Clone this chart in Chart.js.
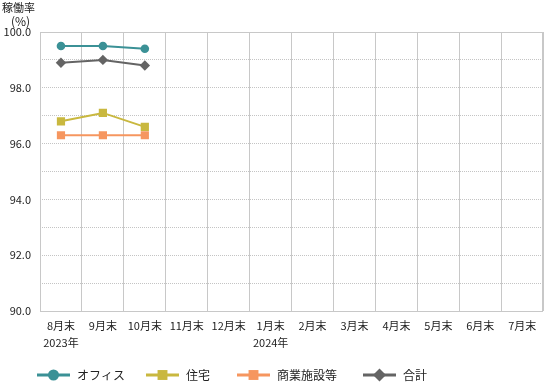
<!DOCTYPE html>
<html>
<head>
<meta charset="utf-8">
<script src="https://cdn.jsdelivr.net/npm/chart.js@4/dist/chart.umd.min.js"></script>
<style>
html,body{margin:0;padding:0;background:#fff;}
#wrap{position:relative;width:549px;height:383px;}
</style>
</head>
<body>
<div id="wrap"><canvas id="c" width="549" height="383"></canvas></div>
<script>
const categories = [['8月末','2023年'],'9月末','10月末','11月末','12月末',['1月末','2024年'],'2月末','3月末','4月末','5月末','6月末','7月末'];
const seriesNames = ['オフィス','住宅','商業施設等','合計'];
const office     = [99.5, 99.5, 99.4, null, null, null, null, null, null, null, null, null];
const housing    = [96.8, 97.1, 96.6, null, null, null, null, null, null, null, null, null];
const commercial = [96.3, 96.3, 96.3, null, null, null, null, null, null, null, null, null];
const total      = [98.9, 99.0, 98.8, null, null, null, null, null, null, null, null, null];
const yTitle = ['稼働率','(%)'];

const FONT = '"Noto Sans CJK JP", "Noto Sans", sans-serif';
const colors = ['#3b9196', '#c9b83f', '#f6965f', '#646464'];
const styles = ['circle', 'rect', 'rect', 'rectRot'];
const radii = [4.3, 5.8, 5.8, 5.2];
const legendRadii = [5.5, 7, 7, 6.5];

const frame = {
  id: 'frame',
  beforeDatasetsDraw(chart) {
    const {ctx, chartArea: a} = chart;
    ctx.save();
    ctx.strokeStyle = '#c8c8c8';
    ctx.lineWidth = 1;
    ctx.strokeRect(Math.round(a.left) + 0.5, Math.round(a.top) + 0.5, Math.round(a.right - a.left) - 1, Math.round(a.bottom - a.top));
    ctx.restore();
  },
  afterDraw(chart) {
    const ctx = chart.ctx;
    ctx.save();
    ctx.fillStyle = '#222';
    ctx.font = '11px ' + FONT;
    ctx.textBaseline = 'middle';
    ctx.textAlign = 'left';
    ctx.fillText(yTitle[0], 2, 8);
    ctx.font = '12px ' + FONT;
    ctx.fillText(yTitle[1], 11, 21);
    // legend
    const xs = [37, 146, 237, 363];
    const y = 375;
    chart.data.datasets.forEach((ds, i) => {
      const x = xs[i];
      ctx.strokeStyle = ds.borderColor;
      ctx.lineWidth = 3;
      ctx.beginPath();
      ctx.moveTo(x, y);
      ctx.lineTo(x + 33, y);
      ctx.stroke();
      ctx.fillStyle = ds.borderColor;
      Chart.helpers.drawPoint(ctx, {pointStyle: ds.pointStyle, radius: legendRadii[i], rotation: 0, borderWidth: 0}, x + 16.5, y);
      ctx.fillStyle = '#222';
      ctx.font = '12px ' + FONT;
      ctx.fillText(ds.label, x + 40, y);
    });
    ctx.restore();
  }
};

const data = [office, housing, commercial, total];
new Chart(document.getElementById('c'), {
  type: 'line',
  data: {
    labels: categories,
    datasets: seriesNames.map((name, i) => ({
      label: name,
      data: data[i],
      borderColor: colors[i],
      backgroundColor: colors[i],
      pointBackgroundColor: colors[i],
      pointBorderColor: colors[i],
      pointBorderWidth: 0,
      pointStyle: styles[i],
      pointRadius: radii[i],
      pointHoverRadius: radii[i],
      borderWidth: 2,
      tension: 0,
      fill: false
    }))
  },
  options: {
    responsive: false,
    animation: false,
    devicePixelRatio: 1,
    layout: {padding: {top: 32, right: 1, bottom: 32, left: 0}},
    plugins: {legend: {display: false}, tooltip: {enabled: false}},
    scales: {
      x: {
        offset: true,
        grid: {offset: true, color: '#c8c8c8', lineWidth: 1, drawTicks: false},
        border: {display: false},
        ticks: {
          color: '#222', padding: 6, maxRotation: 0, autoSkip: false,
          font: {family: FONT, size: 11, lineHeight: 1.55}
        },
        afterFit(s) { s.height = 40; }
      },
      y: {
        min: 90, max: 100,
        grid: {color: '#c4c4c4', lineWidth: 1, drawTicks: false},
        border: {display: false, dash: [1, 1]},
        ticks: {
          stepSize: 1, color: '#222', padding: 9,
          font: {family: FONT, size: 11},
          callback: (v) => (Math.round(v) % 2 === 0 ? Number(v).toFixed(1) : '')
        },
        afterFit(s) { s.width = 40; }
      }
    }
  },
  plugins: [frame]
});
</script>
</body>
</html>
